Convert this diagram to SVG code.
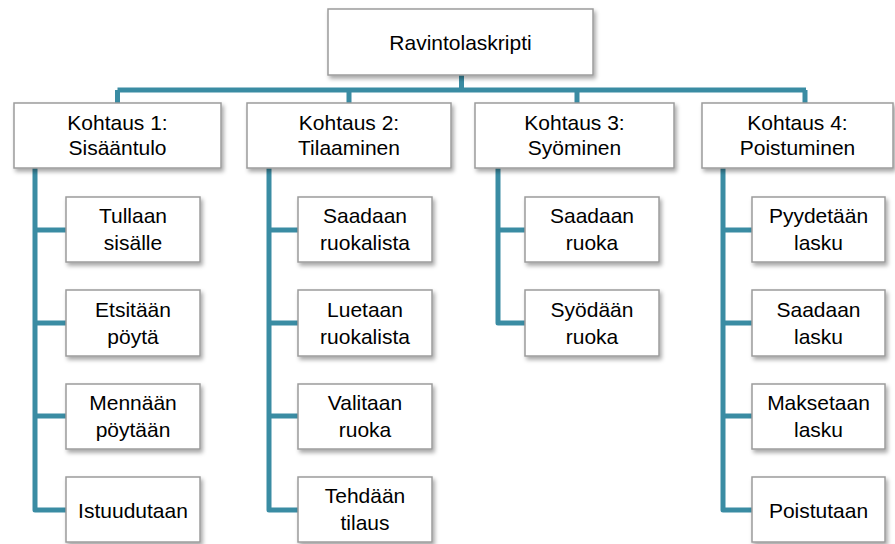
<svg xmlns="http://www.w3.org/2000/svg" width="895" height="544" viewBox="0 0 895 544">
<defs>
<filter id="sh" x="-10%" y="-10%" width="130%" height="140%">
<feDropShadow dx="2" dy="3" stdDeviation="2" flood-color="#000" flood-opacity="0.35"/>
</filter>
</defs>
<style>
.box{fill:#fff;stroke:#9c9c9c;stroke-width:1.5;filter:url(#sh)}
.t{font-family:"Liberation Sans",Arial,sans-serif;font-size:21px;fill:#000;text-anchor:middle}
.c{fill:none;stroke:#3a8ca3;stroke-width:5;stroke-linejoin:round}
</style>
<rect width="895" height="544" fill="#fff"/>
<g id="connectors">
<path class="c" d="M461.5 75V90M117.5 90H806M117.5 90V103M349 90V103M577 90V103M805 90V103"/>
<path class="c" d="M35 168V510H66M35 230H66M35 323H66M35 416H66"/>
<path class="c" d="M269 168V510H298M269 230H298M269 323H298M269 416H298"/>
<path class="c" d="M498 168V323H525M498 230H525"/>
<path class="c" d="M723 168V510H752M723 230H752M723 323H752M723 416H752"/>
</g>
<g id="root"><rect class="box" x="328" y="9" width="265" height="66"/><text class="t" x="460.5" y="50">Ravintolaskripti</text></g>
<g id="k1"><rect class="box" x="14" y="103" width="207" height="65"/><text class="t" x="117.5" y="130">Kohtaus 1:</text><text class="t" x="117.5" y="155">Sisääntulo</text></g>
<g id="k2"><rect class="box" x="247" y="103" width="204" height="65"/><text class="t" x="349" y="130">Kohtaus 2:</text><text class="t" x="349" y="155">Tilaaminen</text></g>
<g id="k3"><rect class="box" x="475" y="103" width="199" height="65"/><text class="t" x="574.5" y="130">Kohtaus 3:</text><text class="t" x="574.5" y="155">Syöminen</text></g>
<g id="k4"><rect class="box" x="702" y="103" width="191" height="65"/><text class="t" x="797.5" y="130">Kohtaus 4:</text><text class="t" x="797.5" y="155">Poistuminen</text></g>

<g id="c1a"><rect class="box" x="66" y="197" width="134" height="65"/><text class="t" x="133" y="223">Tullaan</text><text class="t" x="133" y="250">sisälle</text></g>
<g id="c1b"><rect class="box" x="66" y="290" width="134" height="66"/><text class="t" x="133" y="317">Etsitään</text><text class="t" x="133" y="344">pöytä</text></g>
<g id="c1c"><rect class="box" x="66" y="384" width="134" height="65"/><text class="t" x="133" y="410">Mennään</text><text class="t" x="133" y="437">pöytään</text></g>
<g id="c1d"><rect class="box" x="66" y="477" width="134" height="65"/><text class="t" x="133" y="518">Istuudutaan</text></g>

<g id="c2a"><rect class="box" x="298" y="197" width="134" height="65"/><text class="t" x="365" y="223">Saadaan</text><text class="t" x="365" y="250">ruokalista</text></g>
<g id="c2b"><rect class="box" x="298" y="290" width="134" height="66"/><text class="t" x="365" y="317">Luetaan</text><text class="t" x="365" y="344">ruokalista</text></g>
<g id="c2c"><rect class="box" x="298" y="384" width="134" height="65"/><text class="t" x="365" y="410">Valitaan</text><text class="t" x="365" y="437">ruoka</text></g>
<g id="c2d"><rect class="box" x="298" y="477" width="134" height="65"/><text class="t" x="365" y="503">Tehdään</text><text class="t" x="365" y="530">tilaus</text></g>

<g id="c3a"><rect class="box" x="525" y="197" width="134" height="65"/><text class="t" x="592" y="223">Saadaan</text><text class="t" x="592" y="250">ruoka</text></g>
<g id="c3b"><rect class="box" x="525" y="290" width="134" height="66"/><text class="t" x="592" y="317">Syödään</text><text class="t" x="592" y="344">ruoka</text></g>

<g id="c4a"><rect class="box" x="752" y="197" width="133" height="65"/><text class="t" x="818.5" y="223">Pyydetään</text><text class="t" x="818.5" y="250">lasku</text></g>
<g id="c4b"><rect class="box" x="752" y="290" width="133" height="66"/><text class="t" x="818.5" y="317">Saadaan</text><text class="t" x="818.5" y="344">lasku</text></g>
<g id="c4c"><rect class="box" x="752" y="384" width="133" height="65"/><text class="t" x="818.5" y="410">Maksetaan</text><text class="t" x="818.5" y="437">lasku</text></g>
<g id="c4d"><rect class="box" x="752" y="477" width="133" height="65"/><text class="t" x="818.5" y="518">Poistutaan</text></g>
</svg>
